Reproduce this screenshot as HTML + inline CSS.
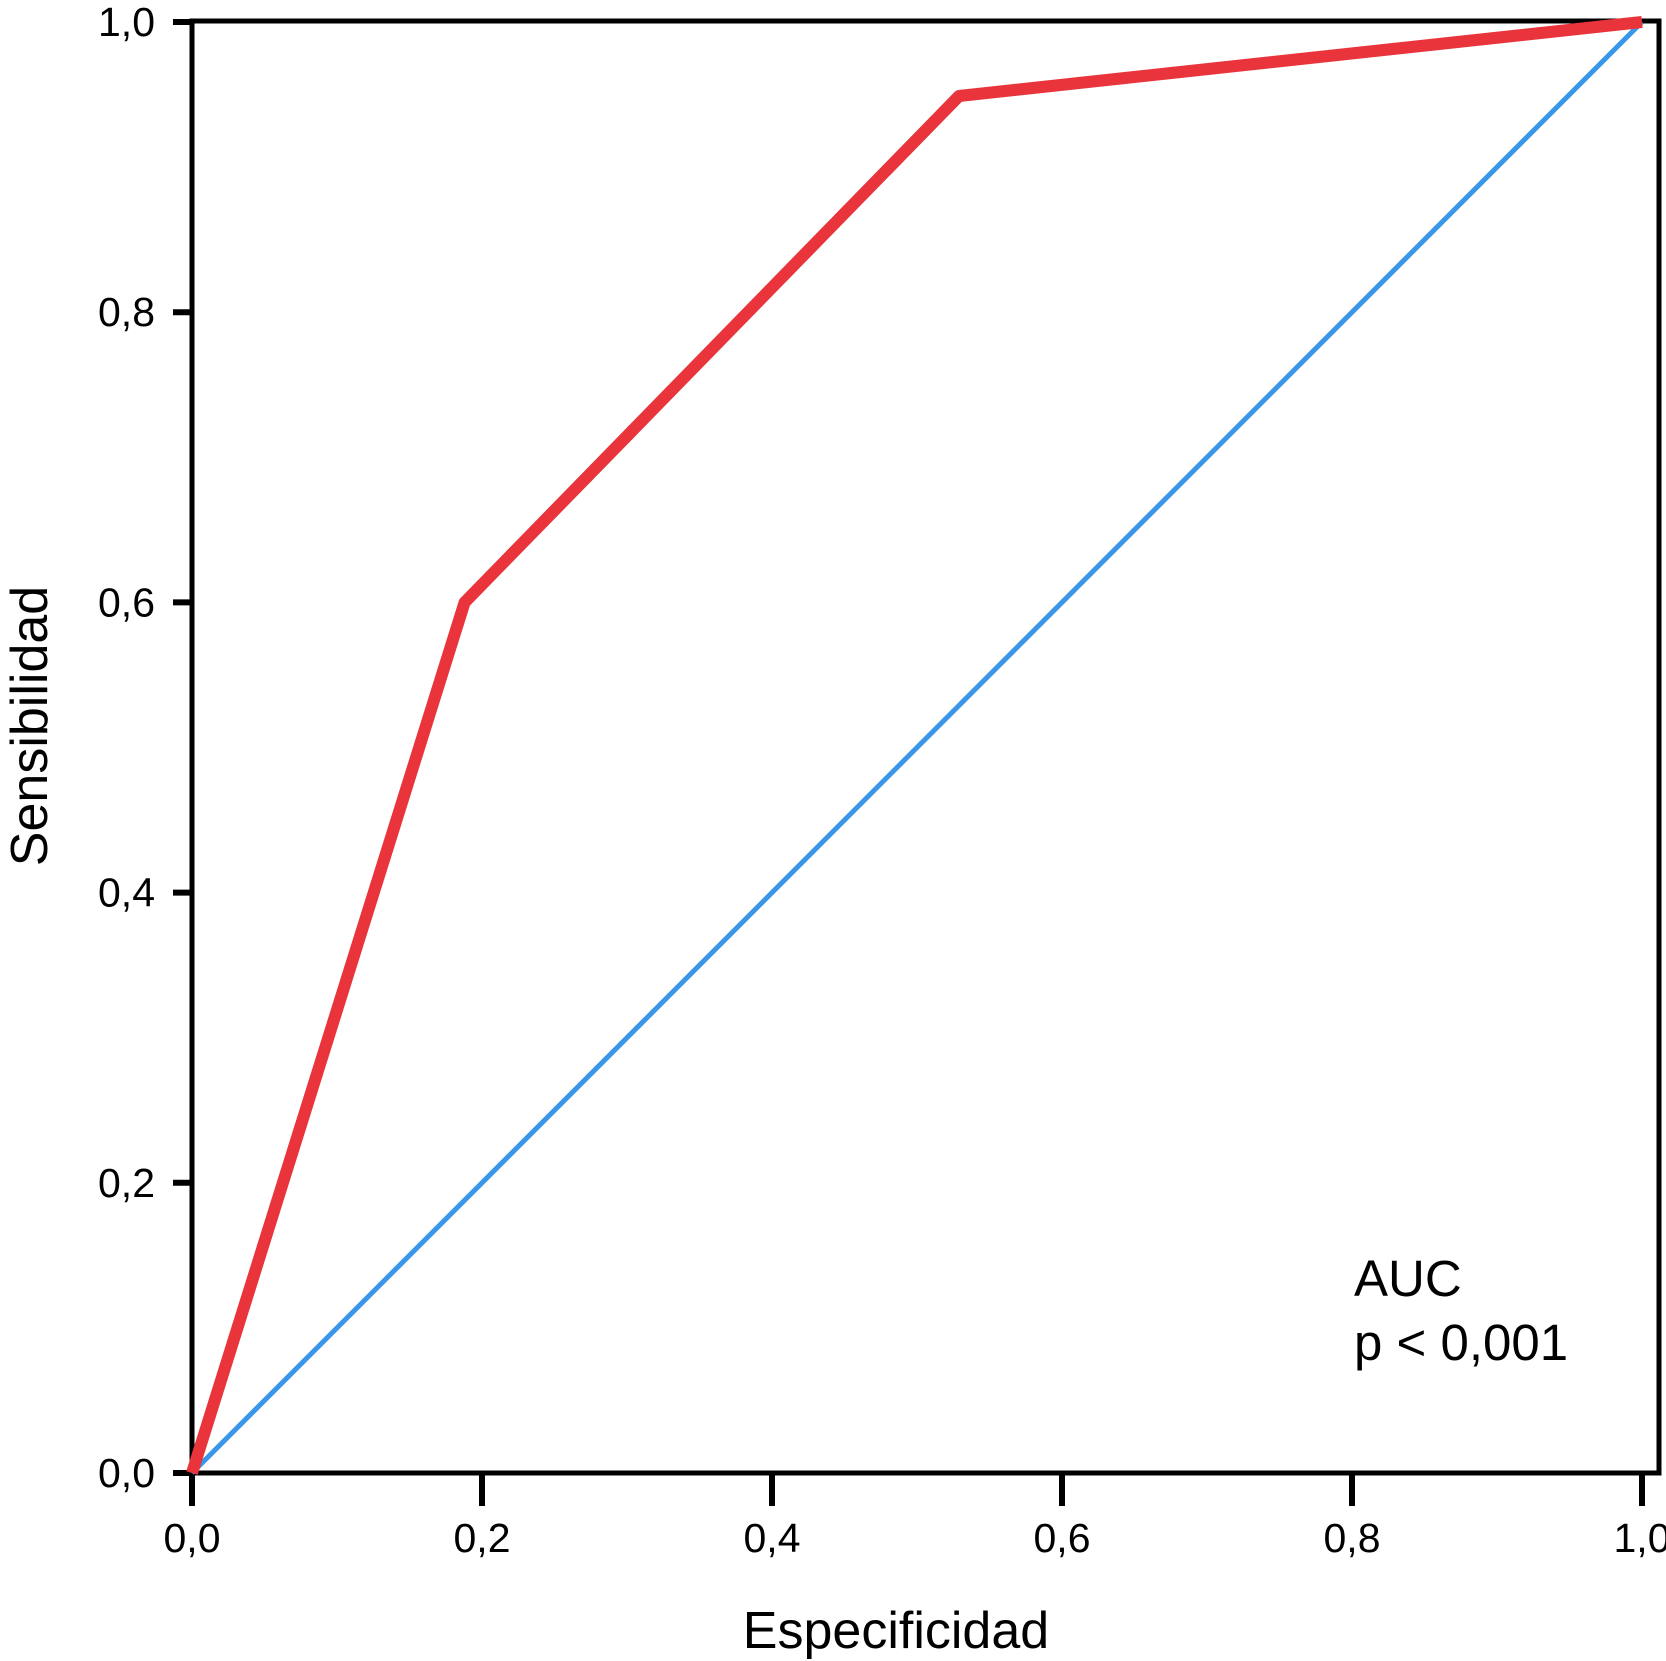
<!DOCTYPE html>
<html><head><meta charset="utf-8"><style>
body{margin:0;background:#fff}
svg{display:block;font-family:"Liberation Sans",Arial,sans-serif}
</style></head><body>
<svg id="chart" width="1666" height="1661" viewBox="0 0 1666 1661" xmlns="http://www.w3.org/2000/svg">
<g id="g"></g>
</svg>
<script>
const rocX = [0, 0.188, 0.529, 1.0];
const rocY = [0, 0.600, 0.949, 1.0];
const refX = [0, 1];
const refY = [0, 1];
const tickVals = [0, 0.2, 0.4, 0.6, 0.8, 1.0];
const tickLabels = ["0,0","0,2","0,4","0,6","0,8","1,0"];

const X0=192, X1=1642, Y0=1473, Y1=22;
const sx=v=>X0+v*(X1-X0);
const sy=v=>Y0-v*(Y0-Y1);
const NS="http://www.w3.org/2000/svg";
const g=document.getElementById('g');
function mk(tag,attrs,parent){const e=document.createElementNS(NS,tag);for(const k in attrs)e.setAttribute(k,attrs[k]);(parent||g).appendChild(e);return e;}

const frame=mk('rect',{x:X0,y:Y1-1,width:1659-X0,height:Y0-Y1+1,fill:'none',stroke:'#000','stroke-width':5});



tickVals.forEach((v,i)=>{
  const yt=mk('line',{x1:173,x2:X0,y1:sy(v),y2:sy(v),stroke:'#000','stroke-width':6});
  
  
  const yl=mk('text',{x:155,y:sy(v)+14,'text-anchor':'end','font-size':41});
  yl.textContent=tickLabels[i];
  
  
  const xt=mk('line',{x1:sx(v),x2:sx(v),y1:Y0,y2:1506,stroke:'#000','stroke-width':6});
  
  
  const xl=mk('text',{x:sx(v),y:1552,'text-anchor':'middle','font-size':41});
  xl.textContent=tickLabels[i];
  
  
});

const ref=mk('polyline',{points:refX.map((x,i)=>sx(x)+','+sy(refY[i])).join(' '),fill:'none',stroke:'#3a96e8','stroke-width':5});



const roc=mk('polyline',{points:rocX.map((x,i)=>sx(x)+','+sy(rocY[i])).join(' '),fill:'none',stroke:'#e8343a','stroke-width':12,'stroke-linejoin':'round'});



const xt=mk('text',{x:896,y:1648,'text-anchor':'middle','font-size':52});
xt.textContent='Especificidad';



const yt=mk('text',{x:0,y:0,'text-anchor':'middle','font-size':52,transform:'translate(47,726) rotate(-90)'});
yt.textContent='Sensibilidad';



const a1=mk('text',{x:1354,y:1296,'font-size':51});
a1.textContent='AUC';


const a2=mk('text',{x:1354,y:1360,'font-size':51});
a2.textContent='p < 0,001';


</script>
</body></html>
